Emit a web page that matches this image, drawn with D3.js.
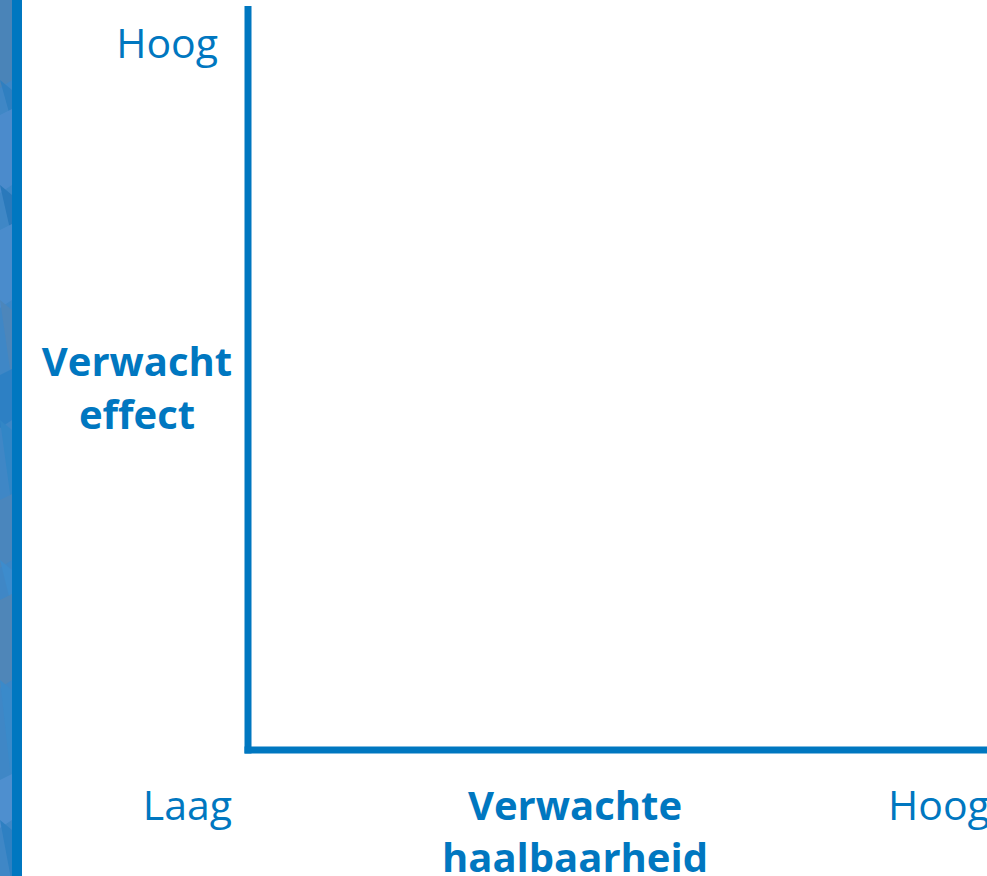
<!DOCTYPE html>
<html>
<head>
<meta charset="utf-8">
<script src="https://cdn.jsdelivr.net/npm/d3@7"></script>
<style>
  body { margin: 0; background: #fff; }
  svg { display: block; }
</style>
</head>
<body>
<div id="canvas"></div>
<script>
// axis labels
let xTicks = ["Laag", "Hoog"];
let yTicks = ["Hoog"];
let yTitle = ["Verwacht", "effect"];
let xTitle = ["Verwachte", "haalbaarheid"];

// left decorative strip: facets (y top, y bottom, shade)
let facets = [
  [0, 80, "#4a84b8"], [80, 115, "#2f7fc0"], [115, 185, "#4b8bcc"],
  [185, 230, "#2a79bb"], [230, 300, "#4a8ccc"], [300, 375, "#4c86bb"],
  [375, 420, "#2d80c4"], [420, 500, "#3286c6"], [500, 560, "#4a86bd"],
  [560, 600, "#3d8ccd"], [600, 680, "#4f86b8"], [680, 780, "#3a8aca"],
  [780, 820, "#4e8fcf"], [820, 876, "#2e80c2"]
];

let blue = "#0077c0";
let W = 987, H = 876;

let drawing = d3.select("#canvas")
  .append("svg")
  .attr("width", W)
  .attr("height", H);

let x = d3.scaleLinear().domain([0, 1]).range([248, 987]);
let y = d3.scaleLinear().domain([0, 1]).range([750, 6]);

// strip
drawing.append("rect").attr("x", 0).attr("y", 0).attr("width", 12).attr("height", H).attr("fill", "#3f87c6");
drawing.selectAll("polygon.facet")
  .data(facets)
  .enter().append("polygon")
  .attr("class", "facet")
  .attr("points", (d, i) => {
    let dx = i % 2 ? 12 : 0;
    return [[0, d[0]], [12, d[0] + (i % 2 ? 10 : -6)], [12, d[1]], [dx, d[1] + 8]].map(p => p.join(",")).join(" ");
  })
  .attr("fill", d => d[2]);
drawing.append("rect").attr("x", 12).attr("y", 0).attr("width", 10).attr("height", H).attr("fill", blue);

// axes
drawing.append("line")
  .attr("x1", x(0)).attr("x2", x(0))
  .attr("y1", y(1)).attr("y2", y(0) + 3.5)
  .attr("stroke", blue).attr("stroke-width", 7);
drawing.append("line")
  .attr("x1", x(0) - 3.5).attr("x2", x(1))
  .attr("y1", y(0)).attr("y2", y(0))
  .attr("stroke", blue).attr("stroke-width", 7);

let font = "'Open Sans', 'Noto Sans', sans-serif";

// y tick label
drawing.append("text")
  .attr("x", 218).attr("y", y(1) + 52)
  .attr("text-anchor", "end")
  .attr("font-family", font).attr("font-size", 41)
  .attr("fill", blue)
  .text(yTicks[0]);

// x tick labels
drawing.selectAll("text.xtick")
  .data(xTicks)
  .enter().append("text")
  .attr("class", "xtick")
  .attr("x", (d, i) => i == 0 ? x(0) - 16 : x(1) - 99)
  .attr("y", 820)
  .attr("text-anchor", (d, i) => i == 0 ? "end" : "start")
  .attr("font-family", font).attr("font-size", 41)
  .attr("fill", blue)
  .text(d => d);

// axis titles
drawing.selectAll("text.ytitle")
  .data(yTitle)
  .enter().append("text")
  .attr("class", "ytitle")
  .attr("x", 137).attr("y", (d, i) => 376 + i * 53)
  .attr("text-anchor", "middle")
  .attr("font-family", font).attr("font-size", 40).attr("font-weight", "bold")
  .attr("fill", blue)
  .text(d => d);

drawing.selectAll("text.xtitle")
  .data(xTitle)
  .enter().append("text")
  .attr("class", "xtitle")
  .attr("x", 575).attr("y", (d, i) => 820 + i * 52)
  .attr("text-anchor", "middle")
  .attr("font-family", font).attr("font-size", 40).attr("font-weight", "bold")
  .attr("fill", blue)
  .text(d => d);
</script>
</body>
</html>
